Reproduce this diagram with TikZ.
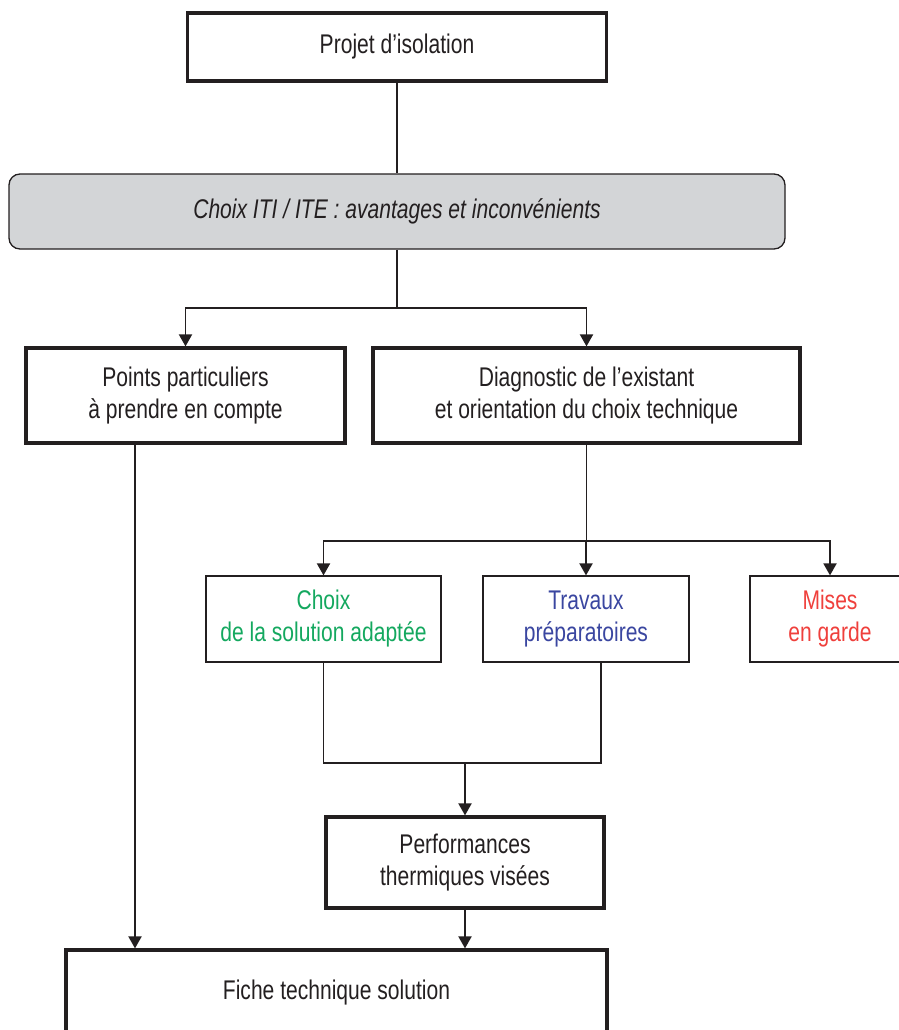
\documentclass[tikz,border=0pt]{standalone}
\usepackage{fontspec}
\setmainfont{Liberation Sans}[FakeStretch=0.78]
\usetikzlibrary{arrows.meta}
\definecolor{ink}{HTML}{231F20}
\definecolor{grayfill}{HTML}{D3D5D7}
\definecolor{tgreen}{RGB}{20,168,95}
\definecolor{tblue}{RGB}{58,70,160}
\definecolor{tred}{RGB}{239,64,60}
\tikzset{
  mainbox/.style={draw=ink, line width=3.2pt, text=ink, align=center, inner sep=0pt, font=\fontsize{27}{32}\selectfont},
  subbox/.style={draw=ink, line width=1.2pt, align=center, inner sep=0pt, font=\fontsize{27}{32}\selectfont},
  graybox/.style={draw=ink, line width=1.3pt, fill=grayfill, rounded corners=11pt, text=ink, align=center, inner sep=0pt, font=\fontsize{27}{32}\selectfont\itshape},
  conn/.style={draw=ink, line width=1.9pt},
  arr/.style={conn, -{Triangle[length=12pt,width=13pt]}}
}
\begin{document}
\begin{tikzpicture}[x=1pt,y=-1pt]
\useasboundingbox (0,0) rectangle (898,1030);
\node[mainbox, minimum width=419pt, minimum height=68pt] (top) at (397,47) {Projet d’isolation};
\node[graybox, minimum width=776pt, minimum height=75pt] (gray) at (397,211.5) {Choix ITI / ITE : avantages et inconvénients};
\node[mainbox, minimum width=319pt, minimum height=95pt] (pts) at (185.5,395.5) {Points particuliers\\à prendre en compte};
\node[mainbox, minimum width=427pt, minimum height=95pt] (diag) at (586.5,395.5) {Diagnostic de l’existant\\et orientation du choix technique};
\node[subbox, text=tgreen, minimum width=235pt, minimum height=86pt] (choix) at (323.5,619) {Choix\\de la solution adaptée};
\node[subbox, text=tblue, minimum width=206pt, minimum height=86pt] (trav) at (586,619) {Travaux\\préparatoires};
\node[subbox, text=tred, minimum width=160pt, minimum height=86pt] (mises) at (830,619) {Mises\\en garde};
\node[mainbox, minimum width=278pt, minimum height=91pt] (perf) at (465,862.5) {Performances\\thermiques visées};
\node[mainbox, minimum width=541pt, minimum height=86pt] (fiche) at (336.5,993) {Fiche technique solution};
\coordinate (j1) at (397,308);
\coordinate (j2) at (586.5,541);
\coordinate (m) at (465,763);
\draw[conn] (top.south) -- (gray.north);
\draw[conn] (gray.south) -- (j1);
\draw[arr] (j1) -| (pts.north);
\draw[arr] (j1) -| (diag.north);
\draw[conn] (diag.south) -- (j2);
\draw[arr] (j2) -| (choix.north);
\draw[arr] (j2) -| (trav.north);
\draw[arr] (j2) -| (mises.north);
\draw[conn] (choix.south) |- (m) -| ([xshift=15pt]trav.south);
\draw[arr] (m) -- (perf.north);
\draw[arr] ([xshift=-50.5pt]pts.south) -- ([xshift=-50.5pt]pts.south |- fiche.north);
\draw[arr] (perf.south) -- (perf.south |- fiche.north);
\end{tikzpicture}
\end{document}
